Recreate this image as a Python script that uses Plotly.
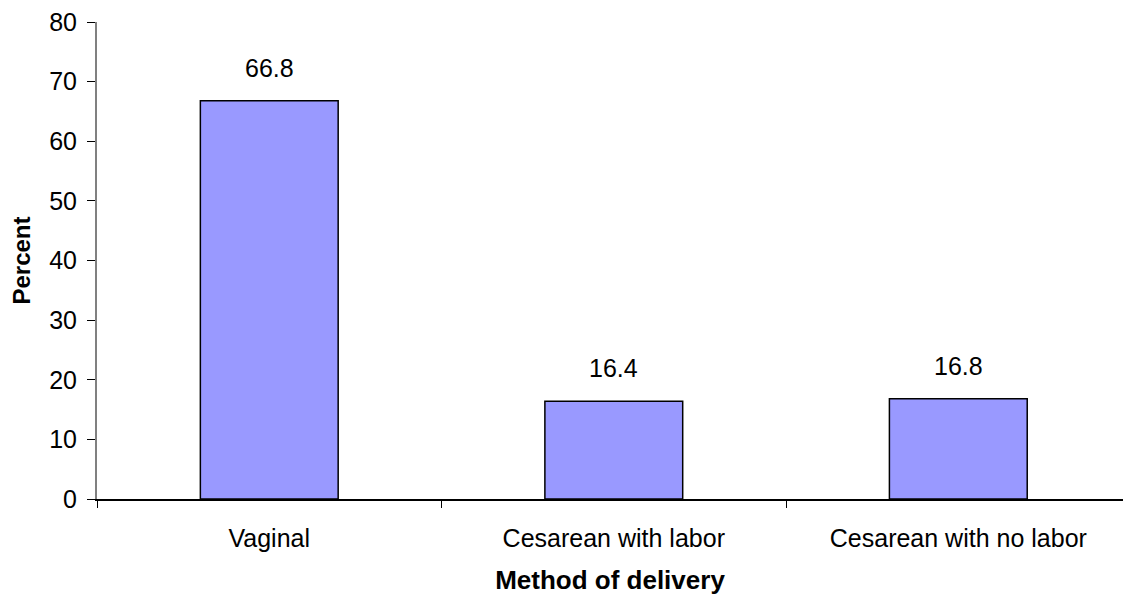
import plotly.graph_objects as go

# Share of deliveries by method
methods = ["Vaginal", "Cesarean with labor", "Cesarean with no labor"]
percent = [66.8, 16.4, 16.8]
y_ticks = [0, 10, 20, 30, 40, 50, 60, 70, 80]

FONT = "Liberation Sans, Arial, sans-serif"

fig = go.Figure()
fig.add_trace(go.Bar(
    x=methods,
    y=percent,
    width=0.4,
    marker=dict(color="#9999FF", line=dict(color="#000000", width=1.5)),
    hoverinfo="skip",
))

# value labels above each bar
for m, v in zip(methods, percent):
    fig.add_annotation(
        x=m, y=v, text=f"{v:.1f}", showarrow=False,
        yanchor="bottom", yshift=17,
        font=dict(family=FONT, size=25, color="#000000"),
    )

fig.update_layout(
    width=1123, height=596,
    margin=dict(l=97, r=0, t=22, b=97),
    paper_bgcolor="white", plot_bgcolor="white",
    showlegend=False,
    font=dict(family=FONT, size=25, color="#000000"),
    xaxis=dict(
        type="category",
        range=[-0.5, 2.478],
        tickson="boundaries",
        ticks="outside", ticklen=7, tickcolor="#000000", tickwidth=1,
        showline=True, linecolor="#000000", linewidth=1.5,
        showgrid=False, zeroline=False,
        ticklabelstandoff=16,
        title=dict(text="<b>Method of delivery</b>", standoff=20,
                   font=dict(family=FONT, size=26)),
    ),
    yaxis=dict(
        range=[0, 80],
        tickvals=y_ticks,
        ticks="outside", ticklen=8, tickcolor="#000000", tickwidth=1,
        showline=True, linecolor="#808080", linewidth=2,
        showgrid=False, zeroline=False,
        ticklabelstandoff=5,
        title=dict(text="<b>Percent</b>", standoff=12,
                   font=dict(family=FONT, size=24)),
    ),
)

fig.write_html("out.html")
